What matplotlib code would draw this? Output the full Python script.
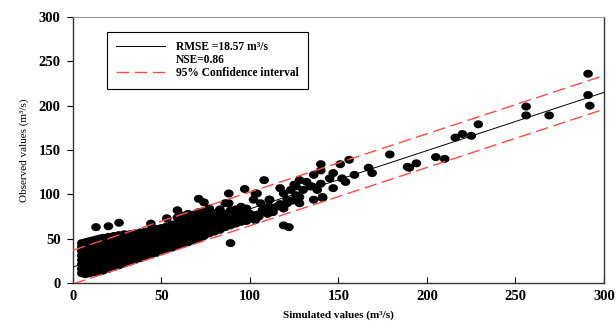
import numpy as np
import matplotlib
matplotlib.use("Agg")
import matplotlib.pyplot as plt
from matplotlib.lines import Line2D

# dense cluster read column by column: x value -> observed values
blob_cols = {
    5: [11, 16, 21, 26, 31, 36, 41, 45],
    7: [10, 15, 20, 25, 30, 35, 40, 46],
    9: [11, 16, 21, 26, 31, 36, 41, 47],
    11: [12, 17, 22, 27, 32, 37, 42, 48],
    13: [12, 17, 22, 27, 32, 37, 42, 49, 63],
    15: [13, 18, 23, 28, 33, 38, 43, 50],
    17: [14, 19, 24, 29, 34, 39, 44, 51],
    20: [16, 21, 26, 31, 36, 41, 46, 52, 64],
    23: [18, 23, 28, 33, 38, 43, 48, 53],
    26: [20, 25, 30, 35, 40, 45, 50, 54, 68],
    29: [22, 27, 32, 37, 42, 47, 52, 55],
    32: [24, 29, 34, 39, 44, 49, 55],
    35: [26, 31, 36, 41, 46, 51, 56],
    38: [28, 33, 38, 43, 48, 53, 57],
    41: [30, 35, 40, 45, 50, 55, 58],
    44: [32, 37, 42, 47, 52, 57, 60, 67],
    47: [34, 39, 44, 49, 54, 59, 61],
    50: [36, 41, 46, 51, 56, 62],
    53: [38, 43, 48, 53, 58, 64, 73],
    56: [40, 45, 50, 55, 60, 66],
    59: [42, 47, 52, 57, 62, 68, 74, 82],
    62: [44, 49, 54, 59, 65, 71, 76],
    65: [46, 51, 56, 62, 68, 74, 78],
    68: [48, 53, 59, 65, 71, 77],
    71: [50, 56, 62, 68, 74, 80, 95],
    74: [53, 59, 66, 73, 80, 91],
    77: [56, 63, 70, 77, 84],
    80: [58, 65, 72, 79],
    83: [60, 67, 75, 83],
    86: [63, 70, 78, 90],
    89: [65, 73, 82, 45],
    92: [67, 75, 83],
    95: [69, 78, 86],
}

# scattered points above x ~ 85
sim_sparse = [88, 97, 103, 108, 117, 119, 122, 88, 102, 106, 111, 113, 103, 96, 98,
              108, 115, 121, 100, 110, 105, 104, 111, 119, 126, 134, 140, 147, 141,
              136, 128, 121, 111, 108, 179, 189, 167, 169, 156, 151, 140, 140, 147,
              145, 152, 154, 136, 132, 135, 138, 141, 128, 125, 123, 130, 128, 159,
              190, 194, 205, 210, 216, 220, 225, 229, 256, 256, 269, 291, 291, 292,
              98, 101, 104, 107, 113, 117, 119, 124, 126]
obs_sparse = [101, 106, 101, 116, 107, 65, 63, 90, 94, 90, 94, 84, 71, 75, 84,
              80, 86, 90, 78, 78, 75, 101, 94, 101, 109, 109, 112, 107, 97,
              94, 90, 94, 86, 84, 145, 131, 130, 124, 139, 134, 134, 127, 124,
              118, 118, 114, 122, 114, 109, 105, 96, 116, 111, 105, 105, 97, 122,
              130, 135, 142, 140, 164, 168, 166, 179, 199, 189, 189, 236, 212, 200,
              70, 73, 77, 82, 80, 89, 84, 93, 99]

# fitted line and 95% band
fit_x = [0, 300]
fit_y = [18, 215]
upper_y = [37, 234]
lower_y = [-1, 196]

sim = [x for x, ys in blob_cols.items() for _ in ys] + sim_sparse
obs = [y for ys in blob_cols.values() for y in ys] + obs_sparse

# slightly wide dot, as in the source image
t = np.linspace(0, 2 * np.pi, 40)
dot = np.column_stack([1.2 * np.cos(t), np.sin(t)])

serif = "Liberation Serif"
fig = plt.figure(figsize=(6.16, 3.24), dpi=100)
ax = fig.add_axes([0.1185, 0.1265, 0.862, 0.821])

ax.scatter(sim, obs, s=48, c="black", marker=dot, edgecolors="none", zorder=2)
ax.plot(fit_x, fit_y, color="black", lw=0.7, zorder=3)
ax.plot(fit_x, upper_y, color="#ff4a4a", lw=1.0, dashes=(9, 4), zorder=3)
ax.plot(fit_x, lower_y, color="#ff4a4a", lw=1.0, dashes=(9, 4), zorder=3)

ax.set_xlim(0, 300)
ax.set_ylim(0, 300)
ax.set_xticks(range(0, 301, 50))
ax.set_yticks(range(0, 301, 50))
ax.tick_params(axis="x", direction="in", length=4, pad=5, labelsize=10.5)
ax.tick_params(axis="y", direction="out", length=4, pad=5, labelsize=10.5)
for lab in ax.get_xticklabels() + ax.get_yticklabels():
    lab.set_fontfamily(serif)
    lab.set_fontweight("bold")

for side in ["left", "bottom", "right"]:
    ax.spines[side].set_color("#333333")
    ax.spines[side].set_linewidth(1.0)
ax.spines["top"].set_color("#999999")
ax.spines["top"].set_linewidth(0.8)

ax.set_xlabel("Simulated values (m³/s)", fontfamily=serif, fontweight="bold",
              fontsize=8, labelpad=5)
ax.set_ylabel("Observed values (m³/s)", fontfamily=serif, fontsize=8, labelpad=7)

handles = [Line2D([], [], color="black", lw=0.7),
           Line2D([], [], color="none"),
           Line2D([], [], color="#ff4a4a", lw=1.0, dashes=(9, 4))]
labels = ["RMSE =18.57 m³/s", "NSE=0.86", "95% Confidence interval"]
leg = ax.legend(handles, labels, loc="upper left", bbox_to_anchor=(0.064, 0.944),
                prop={"family": serif, "weight": "bold", "size": 8.3},
                frameon=True, fancybox=False, edgecolor="black", framealpha=1,
                handlelength=4.2, labelspacing=0.1, borderpad=0.8, handletextpad=1.0,
                borderaxespad=0)
leg.get_frame().set_linewidth(0.8)

plt.savefig("out.png", dpi=100)
